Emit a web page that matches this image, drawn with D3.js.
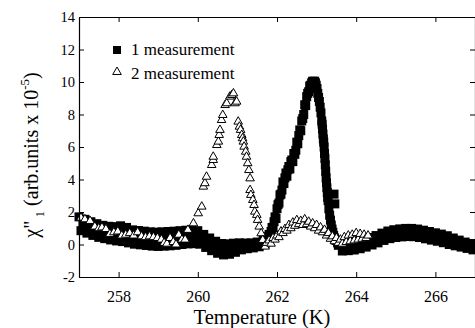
<!DOCTYPE html>
<html>
<head>
<meta charset="utf-8">
<script src="https://cdn.jsdelivr.net/npm/d3@7"></script>
<style>
html,body{margin:0;padding:0;background:#fff;}
svg{display:block;}
svg text{font-family:"Liberation Serif","DejaVu Serif",serif;fill:#000;}
</style>
</head>
<body>
<svg id="chart" width="475" height="328"></svg>
<script>
// ---- data ----
const xTicks = [258, 260, 262, 264, 266];
const yTicks = [-2, 0, 2, 4, 6, 8, 10, 12, 14];
const seriesNames = ["1 measurement", "2 measurement"];

// measurement 1: [T (K), chi''_1]
const series1 = [
[257.00,1.70],[257.05,0.85],[257.10,1.20],[257.15,1.55],[257.20,0.70],[257.25,1.05],[257.30,1.40],[257.35,0.56],[257.40,0.92],[257.45,1.28],
[257.50,0.44],[257.55,0.80],[257.60,1.18],[257.65,0.36],[257.70,0.74],[257.75,1.12],[257.80,0.28],[257.85,0.68],[257.90,1.10],[257.95,0.22],
[258.00,0.62],[258.05,1.15],[258.10,0.18],[258.15,0.60],[258.20,1.05],[258.25,0.10],[258.30,0.50],[258.35,0.90],[258.40,0.02],[258.45,0.45],
[258.50,0.86],[258.55,-0.02],[258.60,0.40],[258.65,0.82],[258.70,-0.06],[258.75,0.36],[258.80,0.78],[258.85,-0.10],[258.90,0.33],[258.95,0.76],
[259.00,-0.12],[259.05,0.32],[259.10,0.78],[259.15,-0.10],[259.20,0.35],[259.25,0.80],[259.30,-0.08],[259.35,0.38],[259.40,0.82],[259.45,-0.05],
[259.50,0.41],[259.55,0.85],[259.60,0.00],[259.65,0.44],[259.70,0.88],[259.75,0.04],[259.80,0.46],[259.85,0.88],[259.90,0.05],[259.95,0.43],
[260.00,0.85],[260.05,0.02],[260.10,0.33],[260.15,0.62],[260.20,-0.18],[260.25,0.12],[260.30,0.40],[260.35,-0.38],[260.40,-0.08],[260.45,0.20],
[260.50,-0.54],[260.55,-0.23],[260.60,0.06],[260.65,-0.64],[260.70,-0.30],[260.75,0.04],[260.80,-0.60],[260.85,-0.24],[260.90,0.08],[260.95,-0.48],
[261.00,-0.15],[261.05,0.10],[261.10,-0.33],[261.15,-0.10],[261.20,0.09],[261.25,-0.26],[261.30,-0.07],[261.35,0.10],[261.40,-0.21],[261.45,-0.03],
[261.50,0.15],[261.55,-0.14],[261.60,0.06],[261.65,0.30],[261.70,0.05],
[261.725,0.30],[261.750,0.32],[261.775,0.48],[261.800,0.62],[261.825,0.55],[261.850,0.80],[261.875,1.05],[261.900,0.95],[261.925,1.40],[261.950,1.70],
[261.975,1.60],[262.000,2.20],[262.025,2.45],[262.050,2.55],[262.075,3.05],[262.100,3.10],[262.125,3.35],[262.150,3.85],[262.175,3.75],[262.200,4.10],
[262.225,4.40],[262.250,4.20],[262.275,4.60],[262.300,4.80],[262.325,4.65],[262.350,5.10],[262.375,5.20],[262.400,5.10],[262.425,5.60],[262.450,5.55],
[262.475,5.80],[262.500,6.30],[262.525,6.20],[262.550,6.70],[262.575,7.05],[262.600,7.00],[262.625,7.60],[262.650,7.75],[262.675,8.00],[262.700,8.60],
[262.725,8.55],[262.750,9.10],[262.775,9.30],[262.800,9.40],[262.825,9.75],[262.850,9.80],[262.875,9.95],[262.900,10.05],[262.925,10.00],[262.950,10.05],
[262.97,9.95],[262.99,9.80],[263.01,9.60],[263.03,9.30],[263.05,9.05],[263.07,8.80],[263.09,8.45],[263.11,8.10],[263.13,7.60],[263.14,7.40],
[263.15,7.10],[263.16,6.80],[263.17,6.50],[263.18,6.30],[263.19,6.00],[263.20,5.60],[263.21,5.30],[263.22,4.90],[263.23,4.50],[263.24,4.10],
[263.25,3.80],[263.26,3.50],[263.27,3.20],[263.28,2.90],[263.29,2.70],[263.31,2.20],[263.33,1.80],[263.35,1.50],[263.37,1.20],[263.39,0.95],
[263.41,0.75],[263.43,0.55],[263.45,0.40],[263.44,3.10],[263.49,0.25],[263.46,2.50],[263.53,0.10],[263.55,-0.05],
[263.60,0.20],[263.65,-0.40],[263.70,-0.10],[263.75,0.21],[263.80,-0.38],[263.85,-0.07],[263.90,0.25],[263.95,-0.34],[264.00,-0.02],[264.05,0.28],
[264.10,-0.26],[264.15,0.05],[264.20,0.35],[264.25,-0.16],[264.30,0.15],[264.35,0.43],[264.40,-0.03],[264.45,0.26],[264.50,0.55],[264.55,0.10],
[264.60,0.40],[264.65,0.70],[264.70,0.25],[264.75,0.54],[264.80,0.83],[264.85,0.36],[264.90,0.64],[264.95,0.91],[265.00,0.43],[265.05,0.70],
[265.10,0.96],[265.15,0.47],[265.20,0.73],[265.25,0.99],[265.30,0.49],[265.35,0.74],[265.40,0.99],[265.45,0.48],[265.50,0.72],[265.55,0.95],
[265.60,0.43],[265.65,0.66],[265.70,0.88],[265.75,0.35],[265.80,0.57],[265.85,0.80],[265.90,0.27],[265.95,0.50],[266.00,0.72],[266.05,0.20],
[266.10,0.42],[266.15,0.64],[266.20,0.11],[266.25,0.33],[266.30,0.54],[266.35,0.00],[266.40,0.21],[266.45,0.40],[266.50,-0.08],[266.55,0.11],
[266.60,0.27],[266.65,-0.16],[266.70,0.00],[266.75,0.15],[266.80,-0.24],[266.85,-0.09],[266.90,0.06],[266.95,-0.33],[267.00,-0.18]
];

// measurement 2: [T (K), chi''_1]
const series2 = [
[257.05,1.65],[257.15,1.55],[257.28,1.45],[257.40,1.10],[257.50,1.00],[257.58,1.05],[257.68,0.95],[257.78,0.65],[257.88,0.75],[257.98,0.80],
[258.08,0.55],[258.18,0.60],[258.28,0.70],[258.38,0.55],[258.48,0.75],[258.58,0.50],[258.68,0.45],[258.78,0.50],[258.88,0.45],[258.98,0.40],
[259.08,0.30],[259.15,0.10],[259.22,0.05],[259.30,0.40],[259.38,0.15],[259.45,0.00],[259.52,0.60],[259.60,0.30],[259.68,0.30],[259.75,0.90],
[259.89,1.30],[260.01,1.92],[260.10,2.33],[260.14,3.56],[260.18,3.77],[260.22,4.17],[260.35,4.89],[260.39,5.20],[260.39,5.40],[260.48,6.12],
[260.52,6.33],[260.54,6.74],[260.56,7.05],[260.60,7.66],[260.63,7.97],[260.69,8.58],[260.73,8.69],[260.81,9.10],[260.86,9.20],[260.90,9.30],
[260.94,8.69],[260.98,8.79],[261.02,7.56],[261.05,7.25],[261.08,7.05],[261.11,6.74],[261.13,6.54],[261.15,6.33],[261.17,6.02],[261.21,5.71],
[261.23,5.40],[261.26,5.00],[261.29,4.58],[261.32,4.07],[261.32,3.35],[261.34,3.05],[261.39,2.74],[261.42,2.43],[261.44,2.02],[261.49,1.82],
[261.51,1.51],[261.55,1.10],[261.60,0.69],[261.64,0.28],[261.70,-0.13],
[261.74,0.10],[261.80,0.25],[261.85,0.05],[261.90,0.40],[261.95,0.30],[262.00,0.55],[262.05,0.45],[262.10,0.80],[262.15,0.70],[262.20,0.95],
[262.25,0.85],[262.30,1.20],[262.35,1.00],[262.40,1.35],[262.45,1.15],[262.50,1.50],[262.55,1.25],[262.60,1.45],[262.65,1.20],[262.70,1.55],
[262.75,1.25],[262.80,1.40],[262.85,1.10],[262.90,1.30],[262.95,1.00],[263.00,1.20],[263.05,0.85],[263.10,1.05],[263.15,0.75],[263.20,0.90],
[263.25,0.55],[263.30,0.70],[263.35,0.35],[263.40,0.50],[263.45,0.20],[263.50,0.40],[263.55,0.10],[263.60,0.30],[263.65,0.05],[263.70,0.45],
[263.75,0.15],[263.80,0.55],[263.85,0.20],[263.90,0.60],[263.95,0.25],[264.00,0.70],[264.05,0.30],[264.10,0.65],[264.15,0.35],[264.20,0.60],
[264.25,0.40],[264.30,0.55]
];

// ---- chart ----
const FONT = '"Liberation Serif", "DejaVu Serif", serif';
const svg = d3.select("#chart");
const M = {left: 79, right: 475, top: 17, bottom: 277};

const x = d3.scaleLinear().domain([257, 267]).range([M.left, M.right]);
const y = d3.scaleLinear().domain([-2, 14]).range([M.bottom, M.top]);

// markers: measurement 1 (filled squares)
const S = 9;
svg.append("g").selectAll("rect").data(series1).join("rect")
  .attr("x", d => x(d[0]) - S/2).attr("y", d => y(d[1]) - S/2)
  .attr("width", S).attr("height", S).attr("fill", "#000");

// markers: measurement 2 (open triangles)
const tri = d3.symbol().type(d3.symbolTriangle).size(32);
svg.append("g").selectAll("path").data(series2).join("path")
  .attr("d", tri)
  .attr("transform", d => `translate(${x(d[0])},${y(d[1])})`)
  .attr("fill", "#fff").attr("stroke", "#000").attr("stroke-width", 1);

// axes (ticks pointing inward)
const gB = svg.append("g").attr("transform", `translate(0,${M.bottom})`)
  .call(d3.axisBottom(x).tickValues(xTicks).tickSizeInner(-5).tickSizeOuter(0).tickPadding(14).tickFormat(d3.format("d")));
const gT = svg.append("g").attr("transform", `translate(0,${M.top})`)
  .call(d3.axisTop(x).tickValues(xTicks).tickSizeInner(-5).tickSizeOuter(0).tickFormat(""));
const gL = svg.append("g").attr("transform", `translate(${M.left},0)`)
  .call(d3.axisLeft(y).tickValues(yTicks).tickSizeInner(-5).tickSizeOuter(0).tickPadding(4).tickFormat(d3.format("d")));
const gR = svg.append("g").attr("transform", `translate(${M.right},0)`)
  .call(d3.axisRight(y).tickValues(yTicks).tickSizeInner(-5).tickSizeOuter(0).tickFormat(""));
[gB, gT, gL, gR].forEach(g => {
  g.attr("font-family", FONT);
  g.selectAll("path.domain").attr("stroke", "#000").attr("stroke-width", 1.2);
  g.selectAll(".tick line").attr("stroke", "#000").attr("stroke-width", 1);
  g.selectAll("text").style("font-family", FONT).attr("fill", "#000");
});
gB.selectAll("text").attr("font-size", "16px");
gL.selectAll("text").attr("font-size", "14.5px");
gL.selectAll(".tick text").text(d => d < 0 ? "-" + Math.abs(d) : d);

// axis titles
svg.append("text").attr("x", 262).attr("y", 324).attr("text-anchor", "middle")
  .style("font-family", FONT).attr("font-size", "20.5px").text("Temperature (K)");

const yl = svg.append("text").attr("transform", "translate(38,155) rotate(-90)")
  .attr("text-anchor", "middle").style("font-family", FONT).attr("font-size", "20px");
yl.append("tspan").text("\u03C7\"");
yl.append("tspan").attr("font-size", "13px").attr("dy", 6).text(" 1");
yl.append("tspan").attr("dy", -6).text(" (arb.units x 10");
yl.append("tspan").attr("font-size", "13px").attr("dy", -9).text("-5");
yl.append("tspan").attr("dy", 9).text(")");

// legend
const lg = svg.append("g");
lg.append("rect").attr("x", 113).attr("y", 46).attr("width", 8).attr("height", 8).attr("fill", "#000");
lg.append("path").attr("d", tri).attr("transform", "translate(117,72)")
  .attr("fill", "#fff").attr("stroke", "#000");
lg.append("text").attr("x", 131).attr("y", 55).style("font-family", FONT).attr("font-size", "17px").text(seriesNames[0]);
lg.append("text").attr("x", 131).attr("y", 79).style("font-family", FONT).attr("font-size", "17px").text(seriesNames[1]);
</script>
</body>
</html>
